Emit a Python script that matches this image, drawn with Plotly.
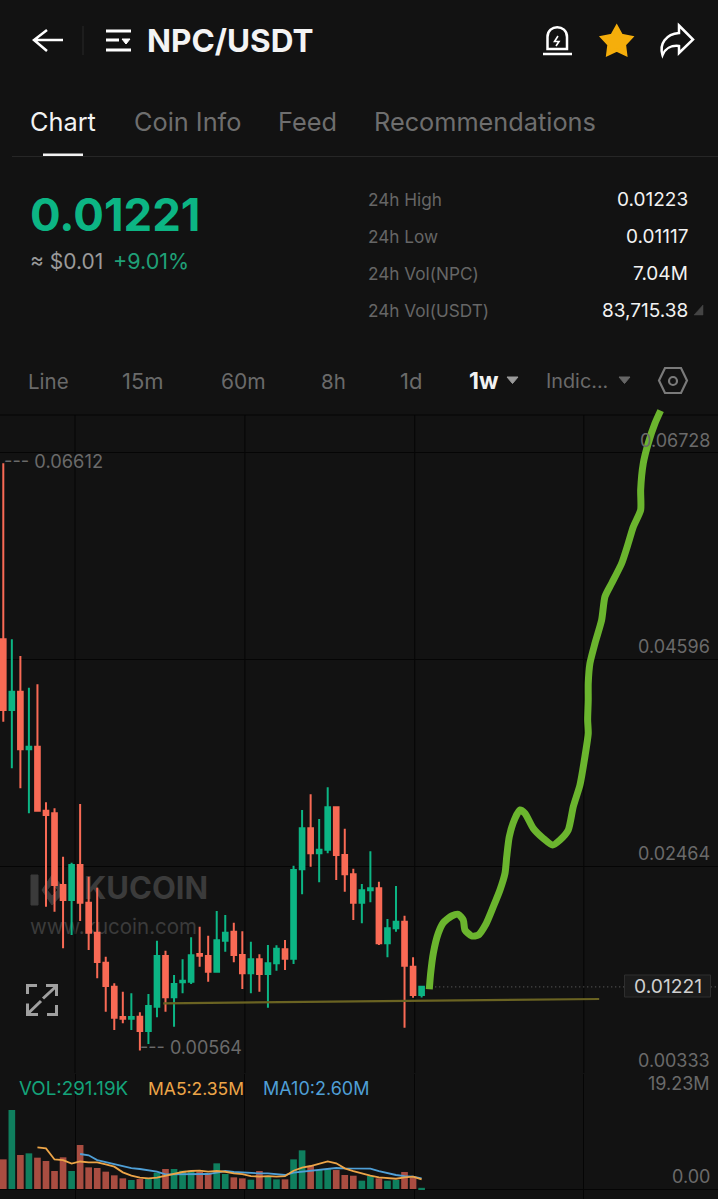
import math
import plotly.graph_objects as go

# ---------- data ----------
weeks = list(range(50))
opens = [.04800,.04072,.04260,.03667,.03694,.03035,.03008,.02269,.02115,.02475,.02087,.01778,.01469,.01222,.00910,.00892,.00913,.00766,.01016,.01538,.01113,.01267,.01273,.01559,.01538,.01376,.01696,.01788,.01548,.01360,.01504,.01353,.01463,.01607,.01510,.02431,.02853,.02596,.02633,.03070,.02578,.02380,.02087,.02215,.02235,.01669,.01823,.01891,.01428,.01136]
highs = [.06613,.04800,.04628,.04302,.04337,.03121,.03059,.02561,.02499,.03104,.02355,.02242,.01531,.01257,.01170,.01154,.00958,.01147,.01696,.01593,.01342,.01504,.01731,.01840,.01747,.02002,.01960,.01881,.01793,.01685,.01556,.01651,.01648,.01703,.02468,.03042,.03204,.02949,.03276,.03080,.02849,.02437,.02280,.02617,.02303,.01919,.02259,.01953,.01525,.01222]
lows = [.03951,.03471,.03265,.03008,.03035,.02046,.01994,.01617,.01754,.01899,.01600,.01308,.00964,.00776,.00845,.00776,.00564,.00632,.00907,.00964,.00810,.01154,.01250,.01428,.01273,.01376,.01582,.01473,.01198,.01154,.01170,.01006,.01387,.01394,.01456,.02174,.02458,.02297,.02596,.02321,.02200,.01909,.01875,.02091,.01651,.01525,.01788,.00800,.01109,.01111]
closes = [.04072,.04260,.03667,.03694,.03035,.02990,.02269,.02115,.02475,.02087,.01778,.01476,.01229,.00903,.00892,.00910,.00766,.01023,.01538,.01113,.01250,.01284,.01545,.01541,.01376,.01700,.01778,.01548,.01360,.01504,.01353,.01463,.01613,.01510,.02424,.02853,.02596,.02633,.03070,.02578,.02380,.02087,.02215,.02235,.01669,.01823,.01891,.01438,.01136,.01221]
volumes = [7.22,19.23,8.28,8.68,7.63,6.82,4.38,7.71,4.38,10.71,5.27,5.11,4.22,3.33,2.60,2.19,2.43,2.43,3.98,4.87,4.87,4.46,4.46,4.22,3.81,6.25,3.65,2.84,2.60,2.27,4.38,3.00,2.35,2.35,7.22,9.41,5.60,4.62,4.79,4.62,3.41,3.24,2.03,3.16,2.60,2.03,2.19,4.14,2.76,0.29]
ma5_x = list(range(4, 50))
ma5 = [10.14,9.9,7.2,7.05,6.2,6.7,6.5,6.5,6.0,5.43,4.06,3.24,2.76,2.6,2.76,3.24,3.8,4.14,4.38,4.46,4.22,4.38,4.2,3.8,3.65,3.16,3.0,3.16,3.0,3.16,4.46,5.2,5.6,6.17,6.73,6.25,5.03,4.38,3.8,3.24,2.84,2.6,2.5,2.84,3.0,2.35]
ma10_x = list(range(9, 50))
ma10 = [8.52,8.2,7.05,6.57,6.08,5.5,5.1,4.87,4.46,4.22,3.57,3.57,3.65,3.65,3.65,3.65,3.98,4.38,4.14,3.98,3.9,3.8,3.8,3.65,3.41,3.98,4.22,4.38,4.62,4.95,5.11,5.03,4.95,5.03,4.95,4.38,3.8,3.41,3.16,3.0,2.6]
sketch_x = [49.90,50.06,50.37,50.95,51.54,52.52,53.30,53.88,54.08,54.87,55.64,56.54,57.40,58.18,58.77,58.97,59.27,59.94,60.52,61.11,62.08,63.25,64.35,65.21,66.18,66.77,67.55,68.13,68.52,68.45,68.52,68.52,68.72,69.31,70.09,70.48,71.27,72.44,73.21,73.80,74.66,74.66,74.97,75.55,76.34,77.00]
sketch_y = [.01195,.01360,.01566,.01772,.01881,.01950,.01968,.01909,.01806,.01744,.01754,.01868,.02046,.02218,.02390,.02561,.02767,.02956,.03042,.03008,.02853,.02750,.02681,.02733,.02836,.03076,.03299,.03591,.03832,.03969,.04175,.04347,.04553,.04759,.04999,.05239,.05377,.05583,.05789,.05960,.06132,.06338,.06613,.06819,.07025,.07155]
trend_x = [18.74, 69.8]
trend_y = [.01051, .01095]
last_price = .01221
last_x = [50.6, 72.9, None, 82.4, 83.7]
last_y = [last_price, last_price, None, last_price, last_price]
price_ticks = [.06728, .04596, .02464, .00333]
price_labels = ["0.06728", "0.04596", "0.02464", "0.00333"]
x_grid = [8.4, 28.3, 48.2, 68.0]

# ---------- colours ----------
BG = "#121212"
GRID = "#050505"
UP = "#0cb584"
DOWN = "#f96a55"
UP_V = "#0f7f5e"
DOWN_V = "#a94d41"
FONT = "Inter"

H = 1199.0
def dom(top, bottom):
    return [(H - bottom) / H, (H - top) / H]

fig = go.Figure()

# watermark sits under the candles (first subplot, pixel axes)
fig.add_trace(go.Scatter(x=[84], y=[891], mode="text", text=["<b>KUCOIN</b>"], textposition="middle right",
                         textfont=dict(family=FONT, size=31, color="#3b3b3b"), xaxis="x", yaxis="y", hoverinfo="skip"))
fig.add_trace(go.Scatter(x=[30], y=[929], mode="text", text=["www.kucoin.com"], textposition="middle right",
                         textfont=dict(family=FONT, size=20.5, color="#3b3b3b"), xaxis="x", yaxis="y", hoverinfo="skip"))

fig.add_trace(go.Candlestick(x=weeks, open=opens, high=highs, low=lows, close=closes, xaxis="x2", yaxis="y2",
                             increasing=dict(line=dict(color=UP, width=2), fillcolor=UP),
                             decreasing=dict(line=dict(color=DOWN, width=2), fillcolor=DOWN),
                             whiskerwidth=0, hoverinfo="skip"))
fig.add_trace(go.Scatter(x=last_x, y=last_y, mode="lines", line=dict(color="#5a5a5a", width=1.2, dash="1px 3px"),
                         xaxis="x2", yaxis="y2", hoverinfo="skip"))
fig.add_trace(go.Scatter(x=trend_x, y=trend_y, mode="lines", line=dict(color="#6a6322", width=2.2),
                         xaxis="x2", yaxis="y2", hoverinfo="skip"))
fig.add_trace(go.Scatter(x=sketch_x, y=sketch_y, mode="lines", line=dict(color="#6bb52e", width=7, shape="spline", smoothing=0.6),
                         xaxis="x2", yaxis="y2", cliponaxis=False, hoverinfo="skip"))

vol_colors = [UP_V if c >= o else DOWN_V for o, c in zip(opens, closes)]
fig.add_trace(go.Bar(x=weeks, y=volumes, marker=dict(color=vol_colors, line=dict(width=0)), width=0.78,
                     xaxis="x3", yaxis="y3", hoverinfo="skip"))
fig.add_trace(go.Scatter(x=ma10_x, y=ma10, mode="lines", line=dict(color="#4f9fd6", width=1.8), xaxis="x3", yaxis="y3", hoverinfo="skip"))
fig.add_trace(go.Scatter(x=ma5_x, y=ma5, mode="lines", line=dict(color="#eda548", width=1.8), xaxis="x3", yaxis="y3", hoverinfo="skip"))

# ---------- page furniture in pixel coordinates ----------
ann = []
def T(x, y, text, size, color, anchor="left", bold=False, family=FONT):
    ann.append(dict(x=x, y=y, xref="x", yref="y", text=f"<b>{text}</b>" if bold else text, showarrow=False,
                    xanchor=anchor, yanchor="middle", font=dict(family=family, size=size, color=color),
                    borderpad=0, align=anchor))

T(146, 40, "NPC/USDT", 31.5, "#f4f4f4", bold=True)
T(29, 121, "Chart", 25.3, "#f2f2f2")
T(133, 121, "Coin Info", 25.3, "#6e6e6e")
T(277, 121, "Feed", 25.3, "#6e6e6e")
T(373, 121, "Recommendations", 25.3, "#6e6e6e")
T(29, 214, "0.01221", 45.5, UP, bold=True)
T(29, 261, "≈ $0.01", 21, "#9a9a9a")
T(112, 261, "+9.01%", 21.5, "#1fa077")
for yy, lab, val in [(199, "24h High", "0.01223"), (236, "24h Low", "0.01117"), (273, "24h Vol(NPC)", "7.04M"), (310, "24h Vol(USDT)", "83,715.38")]:
    T(367, yy, lab, 17.2, "#666666")
    T(688.5, yy, val, 19, "#f2f2f2", anchor="right")
for xx, lab, sz in [(27, "Line", 20.5), (121, "15m", 22), (220, "60m", 21), (320, "8h", 20.5), (399, "1d", 22), (545, "Indic...", 19.8)]:
    T(xx, 381, lab, sz, "#6a6a6a")
T(468, 381, "1w", 23, "#f2f2f2", bold=True)

for yy, lab in zip([440, 646, 853, 1060], price_labels):
    T(711, yy, lab, 18, "#6a6a6a", anchor="right")
T(711, 1083, "19.23M", 18, "#6a6a6a", anchor="right")
T(711, 1176, "0.00", 18, "#6a6a6a", anchor="right")
T(3, 461, "--- 0.06612", 18.3, "#6a6a6a")
T(139, 1047, "--- 0.00564", 18, "#6a6a6a")
T(18, 1088, "VOL:291.19K", 18.8, "#14a37a")
T(147, 1088, "MA5:2.35M", 17.5, "#eda548")
T(262, 1088, "MA10:2.60M", 18, "#4f9fd6")

shapes = []
def P(path, color="#ffffff", w=2.5, fill=None, layer="above"):
    shapes.append(dict(type="path", path=path, xref="x", yref="y", layer=layer,
                       line=dict(color=color, width=w), fillcolor=fill if fill else "rgba(0,0,0,0)"))
def R(x0, y0, x1, y1, fill, line=None):
    shapes.append(dict(type="rect", x0=x0, y0=y0, x1=x1, y1=y1, xref="x", yref="y", layer="above", fillcolor=fill,
                       line=dict(color=line or fill, width=1 if line else 0)))

# chart grid drawn in data coordinates so it stops at the top of the price panel
for v in x_grid:
    shapes.append(dict(type="line", x0=v, x1=v, y0=.00333, y1=.07110, xref="x2", yref="y2", layer="below",
                       line=dict(color=GRID, width=1)))

P("M63,40 H34 M47,30 L34,40 L47,51")
P("M83,26 V55", color="#222222", w=1.5)
P("M106,31 H131 M106,40 H119 M106,50 H131", w=3)
P("M122,39 H130 L126,44 Z", fill="#ffffff", w=1)
P("M543,54 H572", w=2.5)
P("M547.5,49 V37 C547.5,24 567,24 567,37 V49 Z", w=2.5)
P("M558,36 L554.5,41.5 H559 L556,46", w=1.6)
star = "M" + " L".join(f"{616.7 + (15 if k % 2 == 0 else 8) * math.sin(k * math.pi / 5):.1f},{42 - (15 if k % 2 == 0 else 8) * math.cos(k * math.pi / 5):.1f}" for k in range(10)) + " Z"
P(star, color="#f5ae0b", fill="#f5ae0b", w=3.5)
P("M679,25.5 L693,39.5 L679,53 V46 C671,45 665,49 662.5,55 C659,44 666,34 679,33 Z", w=2.5)
R(43, 153.5, 83, 156.5, "#f2f2f2")
P("M12,156.5 H718", color="#262626", w=1)
P("M694,315 H703 V305 Z", color="#444444", fill="#444444", w=0.5)
P("M507,377 H518 L512.5,383.5 Z", color="#9a9a9a", fill="#9a9a9a", w=1)
P("M619,377 H630 L624.5,383.5 Z", color="#666666", fill="#666666", w=1)
P("M665,368 H681 L687,380.5 L681,393 H665 L659,380.5 Z", color="#7a7a7a", w=2.2)
shapes.append(dict(type="circle", x0=669, y0=377, x1=677, y1=385, xref="x", yref="y", line=dict(color="#7a7a7a", width=2.2)))
P("M0,415 H718", color=GRID, w=1.2, layer="below")
# expand icon
P("M27.5,994 V985.5 H37 M46,985.5 H56.5 V996 M56.5,986 L43,998.5 M41,1001 L27.5,1014 M27.5,1003.5 V1014.5 H38 M47,1014.5 H56.5 V1005", color="#a0a0a0", w=3)
# watermark logo
P("M31,875 H38 V905 H31 Z", color="#3b3b3b", fill="#3b3b3b", w=1, layer="below")
P("M52,875 L66,890 L52,905 L42,890 Z M52,884 L47,890 L52,896 L58,890 Z", color="#3b3b3b", fill="#3b3b3b", w=1, layer="below")
# last-price tag
shapes.append(dict(type="rect", x0=624.5, y0=975, x1=710.5, y1=997, xref="x", yref="y", fillcolor="#1b1b1b",
                   line=dict(color="#2e2e2e", width=1)))
T(667.5, 986, "0.01221", 19.3, "#d0d0d0", anchor="center")

axis_off = dict(showgrid=False, zeroline=False, showticklabels=False, ticks="", showline=False)
fig.update_layout(
    width=718, height=1199, margin=dict(l=0, r=0, t=0, b=0), autosize=False,
    paper_bgcolor=BG, plot_bgcolor="rgba(0,0,0,0)", showlegend=False, boxgap=0.22, bargap=0.2,
    xaxis=dict(range=[0, 718], domain=[0, 1], anchor="y", fixedrange=True, **axis_off),
    yaxis=dict(range=[1199, 0], domain=[0, 1], anchor="x", fixedrange=True, **axis_off),
    xaxis2=dict(range=[-0.387, 83.72], domain=[0, 1], anchor="y2", rangeslider=dict(visible=False), **axis_off),
    yaxis2=dict(range=[.00333, .07213], domain=dom(405, 1073), anchor="x2", tickmode="array", tickvals=price_ticks,
                showgrid=True, gridcolor=GRID, gridwidth=1.2, zeroline=False, showticklabels=False, ticks="", showline=False),
    xaxis3=dict(range=[-0.387, 83.72], domain=[0, 1], anchor="y3", tickmode="array", tickvals=x_grid,
                showgrid=True, gridcolor=GRID, gridwidth=1, zeroline=False, showticklabels=False, ticks="", showline=False),
    yaxis3=dict(range=[-2.43, 27.99], domain=dom(1074, 1199), anchor="x3", tickmode="array", tickvals=[0, 27.99],
                showgrid=True, gridcolor=GRID, gridwidth=1.2, zeroline=False, showticklabels=False, ticks="", showline=False),
    annotations=ann, shapes=shapes,
)

fig.write_html("out.html", config=dict(displayModeBar=False),
               post_script="document.body.style.margin='0';document.body.style.background='#121212';document.body.style.overflow='hidden';")
